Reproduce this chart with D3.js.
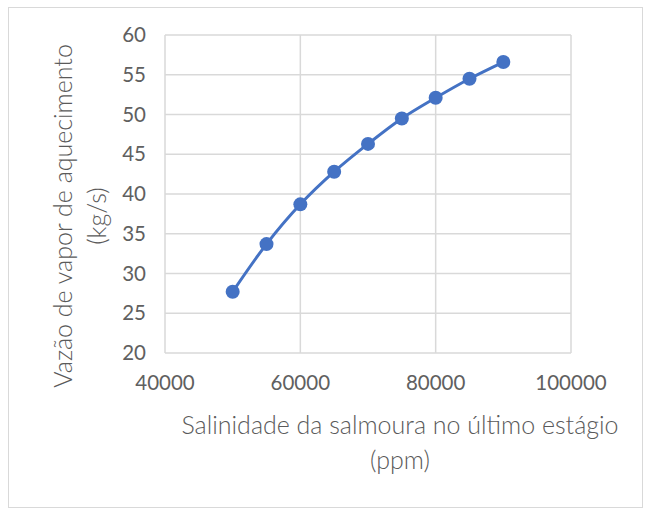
<!DOCTYPE html>
<html>
<head>
<meta charset="utf-8">
<script src="https://cdn.jsdelivr.net/npm/d3@7"></script>
<style>
  body { margin: 0; background: #fff; }
  svg text { font-family: Lato, "Open Sans", sans-serif; fill: #606060; }
  svg text.title { font-weight: 300; fill: #5a5a5a; }
</style>
</head>
<body>
<svg id="viz" width="650" height="515"></svg>
<script>
// data
const salinity = [50000, 55000, 60000, 65000, 70000, 75000, 80000, 85000, 90000];
const steamFlow = [27.7, 33.7, 38.7, 42.8, 46.3, 49.5, 52.1, 54.5, 56.6];
const xTicks = [40000, 60000, 80000, 100000];
const yTicks = [20, 25, 30, 35, 40, 45, 50, 55, 60];

const svg = d3.select("#viz");
const plot = { left: 165, top: 35, right: 571, bottom: 353 };

// outer chart border
svg.append("rect")
  .attr("x", 8.5).attr("y", 7.5)
  .attr("width", 634).attr("height", 500)
  .attr("fill", "#fff")
  .attr("stroke", "#d9d9d9");

const x = d3.scaleLinear().domain([40000, 100000]).range([plot.left, plot.right]);
const y = d3.scaleLinear().domain([20, 60]).range([plot.bottom, plot.top]);

// gridlines
svg.append("g")
  .selectAll("line")
  .data(yTicks)
  .join("line")
  .attr("x1", plot.left).attr("x2", plot.right)
  .attr("y1", d => y(d)).attr("y2", d => y(d))
  .attr("stroke", "#d9d9d9").attr("stroke-width", 1.5);

svg.append("g")
  .selectAll("line")
  .data(xTicks)
  .join("line")
  .attr("x1", d => x(d)).attr("x2", d => x(d))
  .attr("y1", plot.top).attr("y2", plot.bottom)
  .attr("stroke", "#d9d9d9").attr("stroke-width", 1.5);

// tick labels
svg.append("g")
  .selectAll("text")
  .data(yTicks)
  .join("text")
  .attr("x", 146)
  .attr("y", d => y(d))
  .attr("dy", "0.35em")
  .attr("text-anchor", "end")
  .attr("font-size", 20.5)
  .text(d => d);

svg.append("g")
  .selectAll("text")
  .data(xTicks)
  .join("text")
  .attr("x", d => x(d))
  .attr("y", 383)
  .attr("dy", "0.35em")
  .attr("text-anchor", "middle")
  .attr("font-size", 20.5)
  .text(d => d);

// axis titles
svg.append("text").attr("class", "title")
  .attr("x", 400).attr("y", 425).attr("dy", "0.35em")
  .attr("text-anchor", "middle").attr("font-size", 25)
  .text("Salinidade da salmoura no último estágio");
svg.append("text").attr("class", "title")
  .attr("x", 400).attr("y", 460).attr("dy", "0.35em")
  .attr("text-anchor", "middle").attr("font-size", 25)
  .text("(ppm)");

const yTitle = svg.append("g").attr("transform", "translate(0,216) rotate(-90)");
yTitle.append("text").attr("class", "title")
  .attr("x", 0).attr("y", 63).attr("dy", "0.35em")
  .attr("text-anchor", "middle").attr("font-size", 25)
  .text("Vazão de vapor de aquecimento");
yTitle.append("text").attr("class", "title")
  .attr("x", 0).attr("y", 97).attr("dy", "0.35em")
  .attr("text-anchor", "middle").attr("font-size", 25)
  .text("(kg/s)");

// series
const pts = salinity.map((s, i) => [s, steamFlow[i]]);
const line = d3.line()
  .x(d => x(d[0]))
  .y(d => y(d[1]))
  .curve(d3.curveCatmullRom);

svg.append("path")
  .datum(pts)
  .attr("d", line)
  .attr("fill", "none")
  .attr("stroke", "#4472c4")
  .attr("stroke-width", 3);

svg.append("g")
  .selectAll("circle")
  .data(pts)
  .join("circle")
  .attr("cx", d => x(d[0]))
  .attr("cy", d => y(d[1]))
  .attr("r", 7)
  .attr("fill", "#4472c4");
</script>
</body>
</html>
